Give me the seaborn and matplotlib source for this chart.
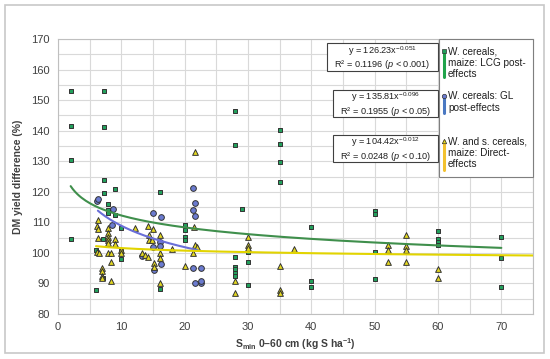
import numpy as np
import pandas as pd
import matplotlib
matplotlib.use('Agg')
import matplotlib.pyplot as plt
import seaborn as sns
from matplotlib.patches import Rectangle
from matplotlib.lines import Line2D
from matplotlib.ticker import MultipleLocator

# LCG post-effects (squares)
lcg_x = [2.0, 2.0, 2.0, 2.0, 7.2, 7.2, 7.2, 7.2, 7.1, 7.1, 6.0, 6.0,
         7.9, 7.9, 7.9, 9.0, 9.0, 10.0, 10.0, 10.0, 16.1, 16.1,
         20.0, 20.0, 20.0, 20.0, 28.0, 28.0, 28.0, 28.0, 28.0, 28.0, 28.0,
         29.1, 30.0, 30.0, 30.0, 35.0, 35.0, 35.0, 35.0, 40.0, 40.0, 40.0,
         50.0, 50.0, 50.0, 50.0, 60.0, 60.0, 60.0, 60.0, 70.0, 70.0, 70.0]
lcg_y = [153.1, 141.6, 130.4, 104.6, 152.9, 141.3, 123.8, 119.6, 104.4, 91.7, 100.9, 88.0,
         116.1, 114.2, 113.2, 120.9, 112.3, 108.0, 100.6, 97.9, 120.0, 88.1,
         109.0, 107.6, 105.3, 104.2, 146.3, 135.3, 98.6, 95.5, 94.6, 93.5, 92.4,
         114.5, 100.4, 97.0, 89.5, 140.3, 135.6, 129.6, 123.2, 108.6, 90.8, 88.9,
         113.8, 112.7, 100.4, 91.4, 107.1, 104.4, 103.7, 102.6, 105.2, 98.2, 88.8]

# GL post-effects (circles)
gl_x = [6.1, 6.35, 8.7, 8.6, 15.0, 16.2, 15.0, 16.1, 16.1, 13.3, 15.1, 16.2,
        21.3, 21.6, 21.3, 21.6, 21.3, 22.5, 21.6, 22.5, 22.5]
gl_y = [117.0, 117.7, 114.3, 109.1, 112.9, 111.8, 101.8, 103.7, 102.3, 99.0, 94.4, 96.4,
        121.1, 116.2, 114.0, 112.1, 95.2, 95.2, 90.0, 90.0, 90.9]

# Direct effects (triangles)
dir_x = [6.25, 6.1, 6.3, 6.3, 6.2, 6.4, 7.0, 7.0, 7.0, 7.0,
         7.9, 7.9, 7.9, 7.9, 7.9, 7.9, 8.3, 8.4, 8.4, 9.0, 9.0, 9.9, 9.9,
         12.1, 14.2, 15.0, 14.3, 14.3, 14.8, 16.1, 18.0, 13.3, 13.8, 14.2, 16.1, 16.1,
         15.2, 15.1, 16.1, 20.0, 21.5, 21.7, 22.0, 21.3, 21.7,
         30.0, 30.0, 30.0, 28.0, 28.0, 37.2, 35.0, 35.0, 35.0,
         52.1, 52.1, 52.1, 55.0, 55.0, 55.0, 55.0, 60.0, 60.0]
dir_y = [110.8, 108.7, 107.7, 104.8, 100.4, 99.9, 95.1, 94.0, 92.6, 91.7,
         108.1, 106.6, 105.3, 104.2, 103.2, 99.9, 99.9, 97.1, 90.9, 104.7, 102.8, 100.9, 99.9,
         108.0, 108.8, 107.7, 105.9, 104.2, 104.2, 105.9, 101.2, 100.1, 99.3, 98.8, 100.0, 98.3,
         96.8, 95.5, 90.0, 95.8, 108.4, 102.6, 101.8, 99.9, 132.9,
         105.1, 102.6, 101.7, 90.9, 86.8, 101.3, 95.8, 87.9, 86.8,
         102.5, 101.0, 97.1, 105.9, 102.3, 101.0, 97.1, 94.8, 91.9]

# power trendlines y = a * x^b, with ranges
fit_a = [126.23, 135.81, 104.42]
fit_b = [-0.051, -0.096, -0.012]
fit_lo = [2, 6.3, 6]
fit_hi = [70, 22, 75]
eq_text = ['y = 126.23x$^{-0.051}$\nR² = 0.1196 ($p$ < 0.001)',
           'y = 135.81x$^{-0.096}$\nR² = 0.1955 ($p$ < 0.05)',
           'y = 104.42x$^{-0.012}$\nR² = 0.0248 ($p$ < 0.10)']
legend_labels = ['W. cereals,\nmaize: LCG post-\neffects',
                 'W. cereals: GL\npost-effects',
                 'W. and s. cereals,\nmaize: Direct-\neffects']

sns.set_style('white')
plt.rcParams['font.family'] = ['Liberation Sans', 'DejaVu Sans']
plt.rcParams['mathtext.fontset'] = 'custom'
plt.rcParams['mathtext.rm'] = 'Liberation Sans'
plt.rcParams['mathtext.it'] = 'Liberation Sans:italic'
plt.rcParams['mathtext.bf'] = 'Liberation Sans:bold'

fig = plt.figure(figsize=(5.5, 3.59), dpi=100)
ax = fig.add_axes([58 / 550, 1 - 314 / 359, 475 / 550, 275 / 359])

marker_face = ['#22a05c', '#6b7bd0', '#e4d820']
line_col = ['#3f8f4c', '#6a6fd8', '#e2d400']
bar_col = ['#1fa34a', '#4a78c2', '#f2c12e']
markers = ['s', 'o', '^']
sizes = [10, 17, 17]

df_lcg = pd.DataFrame({'x': lcg_x, 'y': lcg_y})
df_gl = pd.DataFrame({'x': gl_x, 'y': gl_y})
df_dir = pd.DataFrame({'x': dir_x, 'y': dir_y})

for i, d in enumerate([df_lcg, df_gl, df_dir]):
    sns.scatterplot(data=d, x='x', y='y', marker=markers[i], s=sizes[i],
                    color=marker_face[i], edgecolor='#333333', linewidth=0.7,
                    ax=ax, zorder=3 + i, legend=False)

for i in range(3):
    xs = np.linspace(fit_lo[i], fit_hi[i], 200)
    fit_df = pd.DataFrame({'x': xs, 'y': fit_a[i] * xs ** fit_b[i]})
    sns.lineplot(data=fit_df, x='x', y='y', color=line_col[i], lw=1.5,
                 ax=ax, zorder=7, legend=False)

ax.set_xlim(0, 75)
ax.set_ylim(80, 170)
ax.set_xticks(np.arange(0, 71, 10))
ax.xaxis.set_minor_locator(MultipleLocator(5))
ax.yaxis.set_major_locator(MultipleLocator(10))
ax.yaxis.set_minor_locator(MultipleLocator(5))
ax.grid(which='both', color='#d9d9d9', lw=0.8)
ax.set_axisbelow(True)
ax.tick_params(which='both', length=0, labelsize=8, colors='#404040', pad=6)
for s in ax.spines.values():
    s.set_color('#bfbfbf')
    s.set_linewidth(0.8)

ax.set_xlabel(r'$\mathbf{S_{min}}$ 0–60 cm (kg S ha$^{\mathbf{-1}}$)',
              fontsize=7.5, fontweight='bold', color='#404040', labelpad=3)
ax.set_ylabel('DM yield difference (%)', fontsize=7.5, fontweight='bold',
              color='#404040', labelpad=6)

def fx(px):
    return px / 550

def fy(py):
    return 1 - py / 359

# equation boxes
eq_box = [(327, 43, 71), (333, 90, 117), (333, 135, 162)]
for (left, top, bot), t in zip(eq_box, eq_text):
    fig.patches.append(Rectangle((fx(left), fy(bot)), fx(438) - fx(left), fy(top) - fy(bot),
                                 transform=fig.transFigure, fc='white', ec='#404040',
                                 lw=0.8, zorder=9))
    fig.text(fx((left + 438) / 2), fy((top + bot) / 2 + 0.5), t, ha='center', va='center',
             fontsize=6.6, color='#202020', linespacing=1.05, zorder=10)

# legend box
fig.patches.append(Rectangle((fx(439), fy(177)), fx(533) - fx(439), fy(39) - fy(177),
                             transform=fig.transFigure, fc='white', ec='#7f7f7f',
                             lw=0.8, zorder=9))
leg_top = [51, 96, 141]
leg_bot = [77, 113, 170]
for i in range(3):
    fig.lines.append(Line2D([fx(444), fx(444)], [fy(leg_top[i]), fy(leg_bot[i])],
                            transform=fig.transFigure, color=bar_col[i], lw=2.2, zorder=10))
    fig.lines.append(Line2D([fx(444)], [fy(leg_top[i])], transform=fig.transFigure,
                            marker=markers[i], ms=3.2, mfc=marker_face[i], mec='#333333',
                            mew=0.5, ls='none', zorder=11))
    fig.text(fx(448), fy(leg_top[i] - 5), legend_labels[i], ha='left', va='top',
             fontsize=7.2, color='#202020', linespacing=1.2, zorder=11)

# outer frame
fig.patches.append(Rectangle((fx(5), fy(353)), fx(544) - fx(5), fy(5) - fy(353),
                             transform=fig.transFigure, fill=False, ec='#c8c8c8', lw=1.2))

fig.savefig('out.png', dpi=100)
